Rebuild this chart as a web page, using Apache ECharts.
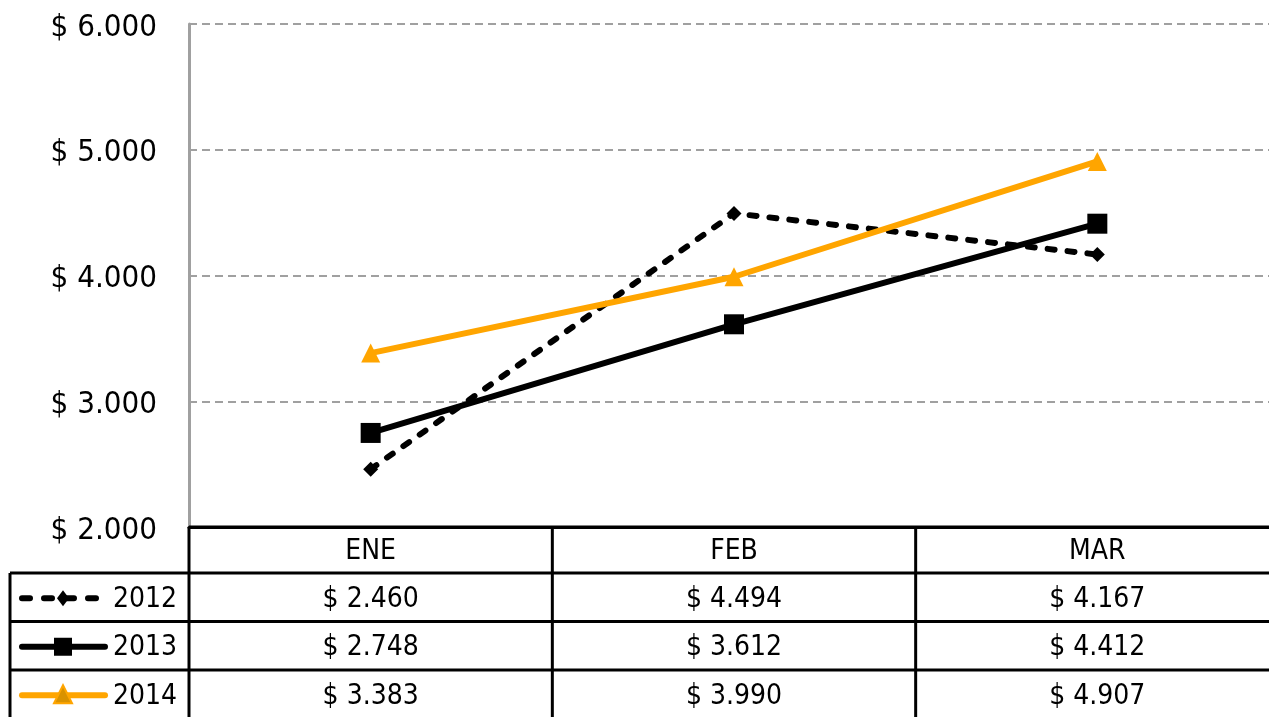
<!DOCTYPE html>
<html lang="es">
<head>
    <meta charset="UTF-8">
    <title>line table</title>
</head>
<style>
    html, body { margin: 0; padding: 0; background: #fff; }
    .main { width: 1269px; height: 717px; }
</style>
<body>
    <div class="main" id="main"></div>
</body>
<script src="https://cdn.jsdelivr.net/npm/echarts@6/dist/echarts.min.js"></script>
<script>
    // datos
    const categories = ['ENE', 'FEB', 'MAR'];
    const years = ['2012', '2013', '2014'];
    const v2012 = [2460, 4494, 4167];
    const v2013 = [2748, 3612, 4412];
    const v2014 = [3383, 3990, 4907];
    const yMin = 2000, yMax = 6000, yStep = 1000;

    const FONT = "'DejaVu Sans Condensed', 'DejaVu Sans', sans-serif";
    const ORANGE = '#FFA500';

    function money(v) {
        return '$ ' + String(v).replace(/\B(?=(\d{3})+(?!\d))/g, '.');
    }

    const myChart = echarts.init(document.getElementById('main'));

    let option = {
        animation: false,
        grid: { left: 189, top: 24, width: 1090, height: 503, outerBoundsMode: 'none', containLabel: false },
        xAxis: {
            type: 'category',
            data: categories,
            boundaryGap: true,
            axisLine: { show: true, lineStyle: { color: '#000', width: 3 } },
            axisTick: { show: false },
            axisLabel: { show: false }
        },
        yAxis: {
            type: 'value',
            min: yMin, max: yMax, interval: yStep,
            axisLine: { show: true, lineStyle: { color: '#A0A0A0', width: 3 } },
            axisTick: { show: false },
            axisLabel: {
                margin: 32, color: '#000',
                formatter: v => '{t|' + money(v) + '}',
                rich: { t: { fontSize: 31, fontFamily: FONT, color: '#000', padding: [7, 0, 0, 0] } }
            },
            splitLine: { show: true, lineStyle: { color: '#A0A0A0', width: 2, type: [8, 5] } }
        },
        series: [
            {
                name: '2012', type: 'line', data: v2012,
                symbol: 'diamond', symbolSize: 15,
                itemStyle: { color: '#000' },
                lineStyle: { color: '#000', width: 6, type: [7, 13], cap: 'round' },
                z: 3
            },
            {
                name: '2013', type: 'line', data: v2013,
                symbol: 'rect', symbolSize: 20,
                itemStyle: { color: '#000' },
                lineStyle: { color: '#000', width: 6 },
                z: 3
            },
            {
                name: '2014', type: 'line', data: v2014,
                symbol: 'triangle', symbolSize: 19,
                itemStyle: { color: ORANGE },
                lineStyle: { color: ORANGE, width: 6 },
                z: 4
            }
        ]
    };
    myChart.setOption(option);

    // tabla de datos bajo el eje (la ultima fila queda cortada por el borde)
    const rows = [v2012, v2013, v2014];
    const xc = categories.map((c, i) => myChart.convertToPixel({ xAxisIndex: 0 }, i));
    const bw = xc[1] - xc[0];
    const tLeft = xc[0] - bw / 2;
    const tRight = xc[xc.length - 1] + bw / 2;
    const tTop = myChart.convertToPixel({ yAxisIndex: 0 }, yMin);
    const headH = 46, rowH = 48.5;
    const legLeft = 10;
    const tBottom = tTop + headH + rowH * rows.length + 10;

    const els = [];
    const stroke = { stroke: '#000', lineWidth: 3 };
    function hline(x1, x2, y) {
        els.push({ type: 'line', shape: { x1, y1: y, x2, y2: y }, style: stroke, z: 10 });
    }
    function vline(x, y1, y2) {
        els.push({ type: 'line', shape: { x1: x, y1, x2: x, y2 }, style: stroke, z: 10 });
    }
    hline(tLeft, tRight, tTop);
    for (let r = 0; r < rows.length; r++) {
        hline(legLeft, tRight, tTop + headH + rowH * r);
    }
    vline(legLeft, tTop + headH, tBottom);
    for (let c = 0; c <= categories.length; c++) {
        vline(tLeft + bw * c, tTop, tBottom);
    }
    categories.forEach((c, i) => {
        els.push({
            type: 'text', x: xc[i], y: tTop + headH / 2 + 2,
            style: { text: c, fontSize: 28, fontFamily: FONT, fill: '#000', align: 'center', verticalAlign: 'middle' }, z: 11
        });
    });
    rows.forEach((vals, r) => {
        const cy = tTop + headH + rowH * r + rowH / 2 + 2;
        vals.forEach((v, i) => {
            els.push({
                type: 'text', x: xc[i], y: cy,
                style: { text: money(v), fontSize: 28, fontFamily: FONT, fill: '#000', align: 'center', verticalAlign: 'middle' }, z: 11
            });
        });
        els.push({
            type: 'text', x: tLeft - 12, y: cy,
            style: { text: years[r], fontSize: 28, fontFamily: FONT, fill: '#000', align: 'right', verticalAlign: 'middle' }, z: 11
        });
        // icono de leyenda
        const s = option.series[r];
        const ly = cy - 1;
        const lx1 = 22, lx2 = 105, mx = 63;
        const ls = { stroke: s.lineStyle.color, lineWidth: 6, lineCap: 'round' };
        if (Array.isArray(s.lineStyle.type)) ls.lineDash = [8, 14];
        els.push({ type: 'line', shape: { x1: lx1, y1: ly, x2: lx2, y2: ly }, style: ls, z: 11 });
        const fill = s.itemStyle.color;
        if (s.symbol === 'diamond') {
            els.push({ type: 'polygon', shape: { points: [[mx, ly - 8], [mx + 6, ly], [mx, ly + 8], [mx - 6, ly]] }, style: { fill }, z: 12 });
        } else if (s.symbol === 'rect') {
            els.push({ type: 'rect', shape: { x: mx - 9, y: ly - 9, width: 18, height: 18 }, style: { fill }, z: 12 });
        } else {
            els.push({ type: 'polygon', shape: { points: [[mx, ly - 10], [mx + 9, ly + 8], [mx - 9, ly + 8]] }, style: { fill: '#D99200', stroke: ORANGE, lineWidth: 2 }, z: 12 });
        }
    });
    myChart.setOption({ graphic: { elements: els } });
</script>
</html>
